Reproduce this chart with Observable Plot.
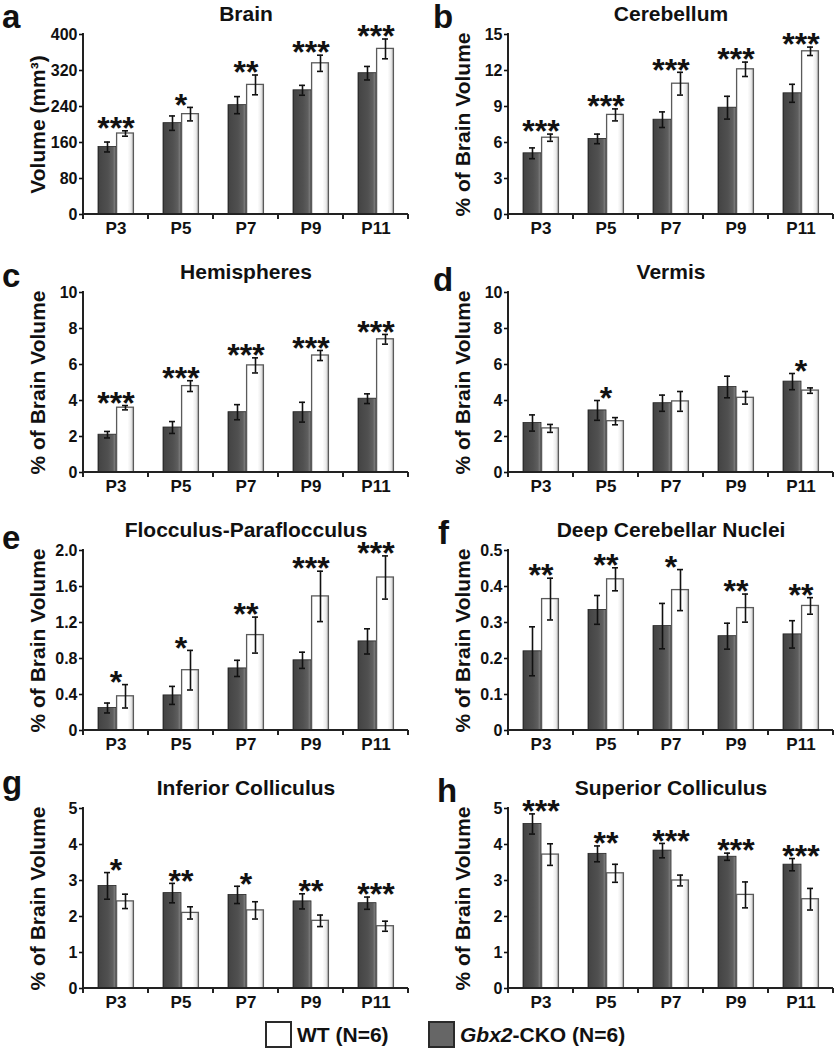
<!DOCTYPE html>
<html><head><meta charset="utf-8">
<script src="https://cdn.jsdelivr.net/npm/d3@7"></script>
<script src="https://cdn.jsdelivr.net/npm/@observablehq/plot@0.6"></script>
<style>
body{margin:0;background:#fff;}
#fig{position:relative;width:840px;height:1050px;font-family:"Liberation Sans",Arial,sans-serif;color:#111;overflow:hidden;}
.panel{position:absolute;}
.letter{position:absolute;font-weight:bold;font-size:33px;line-height:28px;}
.legend{position:absolute;top:1021px;font-weight:bold;font-size:21px;line-height:27px;display:flex;align-items:center;}
.swatch{width:23px;height:23px;border:2px solid #2a2a2a;margin-right:5px;}
</style></head>
<body><div id="fig"></div>
<script>
const ages = ["P3", "P5", "P7", "P9", "P11"];

// a Brain (mm3)
const brainCKO = [150, 203, 243, 276, 314];
const brainCKOErr = [11, 16, 19, 11, 15];
const brainWT = [180, 223, 288, 336, 368];
const brainWTErr = [6, 15, 22, 18, 22];
const brainStars = ["***", "*", "**", "***", "***"];
const brainTicks = [0, 80, 160, 240, 320, 400];

// b Cerebellum
const cbCKO = [5.1, 6.3, 7.9, 8.9, 10.1];
const cbCKOErr = [0.45, 0.4, 0.65, 0.95, 0.75];
const cbWT = [6.4, 8.3, 10.9, 12.1, 13.6];
const cbWTErr = [0.3, 0.5, 0.95, 0.6, 0.35];
const cbStars = ["***", "***", "***", "***", "***"];
const cbTicks = [0, 3, 6, 9, 12, 15];

// c Hemispheres
const hemCKO = [2.1, 2.5, 3.35, 3.35, 4.1];
const hemCKOErr = [0.18, 0.33, 0.42, 0.55, 0.27];
const hemWT = [3.6, 4.8, 5.95, 6.5, 7.4];
const hemWTErr = [0.12, 0.3, 0.42, 0.28, 0.27];
const hemStars = ["***", "***", "***", "***", "***"];
const hemTicks = [0, 2, 4, 6, 8, 10];

// d Vermis
const verCKO = [2.75, 3.45, 3.85, 4.75, 5.05];
const verCKOErr = [0.45, 0.55, 0.45, 0.6, 0.45];
const verWT = [2.45, 2.85, 3.95, 4.15, 4.55];
const verWTErr = [0.22, 0.2, 0.55, 0.35, 0.15];
const verStars = ["", "*", "", "", "*"];
const verTicks = [0, 2, 4, 6, 8, 10];

// e Flocculus-Paraflocculus
const flCKO = [0.25, 0.39, 0.69, 0.78, 0.99];
const flCKOErr = [0.055, 0.1, 0.09, 0.09, 0.14];
const flWT = [0.38, 0.67, 1.06, 1.49, 1.7];
const flWTErr = [0.13, 0.22, 0.2, 0.28, 0.24];
const flStars = ["*", "*", "**", "***", "***"];
const flTicks = [0, 0.4, 0.8, 1.2, 1.6, 2.0];

// f Deep Cerebellar Nuclei
const dcnCKO = [0.22, 0.335, 0.29, 0.262, 0.267];
const dcnCKOErr = [0.068, 0.04, 0.063, 0.036, 0.038];
const dcnWT = [0.365, 0.42, 0.39, 0.34, 0.346];
const dcnWTErr = [0.058, 0.032, 0.057, 0.039, 0.023];
const dcnStars = ["**", "**", "*", "**", "**"];
const dcnTicks = [0, 0.1, 0.2, 0.3, 0.4, 0.5];

// g Inferior Colliculus
const icCKO = [2.85, 2.65, 2.6, 2.42, 2.37];
const icCKOErr = [0.37, 0.27, 0.24, 0.21, 0.17];
const icWT = [2.42, 2.1, 2.17, 1.88, 1.73];
const icWTErr = [0.2, 0.17, 0.24, 0.16, 0.14];
const icStars = ["*", "**", "*", "**", "***"];
const icTicks = [0, 1, 2, 3, 4, 5];

// h Superior Colliculus
const scCKO = [4.57, 3.74, 3.83, 3.66, 3.44];
const scCKOErr = [0.28, 0.22, 0.2, 0.1, 0.17];
const scWT = [3.72, 3.2, 3.0, 2.6, 2.48];
const scWTErr = [0.3, 0.25, 0.15, 0.36, 0.3];
const scStars = ["***", "**", "***", "***", "***"];
const scTicks = [0, 1, 2, 3, 4, 5];

const pctLabel = "% of Brain Volume";
const int = d => String(d);
const dec = d => d === 0 ? "0" : d3.format(".1f")(d);

const panels = [
  {letter: "a", title: "Brain", ylabel: "Volume (mm\u00b3)", cko: brainCKO, ckoErr: brainCKOErr, wt: brainWT, wtErr: brainWTErr, stars: brainStars, ticks: brainTicks, fmt: int},
  {letter: "b", title: "Cerebellum", ylabel: pctLabel, cko: cbCKO, ckoErr: cbCKOErr, wt: cbWT, wtErr: cbWTErr, stars: cbStars, ticks: cbTicks, fmt: int},
  {letter: "c", title: "Hemispheres", ylabel: pctLabel, cko: hemCKO, ckoErr: hemCKOErr, wt: hemWT, wtErr: hemWTErr, stars: hemStars, ticks: hemTicks, fmt: int},
  {letter: "d", title: "Vermis", ylabel: pctLabel, cko: verCKO, ckoErr: verCKOErr, wt: verWT, wtErr: verWTErr, stars: verStars, ticks: verTicks, fmt: int},
  {letter: "e", title: "Flocculus-Paraflocculus", ylabel: pctLabel, cko: flCKO, ckoErr: flCKOErr, wt: flWT, wtErr: flWTErr, stars: flStars, ticks: flTicks, fmt: dec},
  {letter: "f", title: "Deep Cerebellar Nuclei", ylabel: pctLabel, cko: dcnCKO, ckoErr: dcnCKOErr, wt: dcnWT, wtErr: dcnWTErr, stars: dcnStars, ticks: dcnTicks, fmt: dec},
  {letter: "g", title: "Inferior Colliculus", ylabel: pctLabel, cko: icCKO, ckoErr: icCKOErr, wt: icWT, wtErr: icWTErr, stars: icStars, ticks: icTicks, fmt: int},
  {letter: "h", title: "Superior Colliculus", ylabel: pctLabel, cko: scCKO, ckoErr: scCKOErr, wt: scWT, wtErr: scWTErr, stars: scStars, ticks: scTicks, fmt: int}
];

// layout (style only)
const letterPos = [[2, 29], [13, 29], [2, 30], [13, 34], [2, 34], [18, 29], [2, 21], [17, 29]];
const FONT = '"Liberation Sans", Arial, sans-serif';
const ROW_H = 258;

function gradients() {
  const defs = d3.create("svg:defs");
  const g1 = defs.append("linearGradient").attr("id", "gDark").attr("x1", 0).attr("x2", 1).attr("y1", 0).attr("y2", 0);
  [[0, "#2a2a2a"], [0.08, "#454545"], [0.55, "#505050"], [0.82, "#5e5e5e"], [1, "#8a8a8a"]]
    .forEach(([o, c]) => g1.append("stop").attr("offset", o).attr("stop-color", c));
  const g2 = defs.append("linearGradient").attr("id", "gWhite").attr("x1", 0).attr("x2", 1).attr("y1", 0).attr("y2", 0);
  [[0, "#ffffff"], [0.65, "#ffffff"], [0.85, "#ececec"], [1, "#bdbdbd"]]
    .forEach(([o, c]) => g2.append("stop").attr("offset", o).attr("stop-color", c));
  return defs.node();
}

function axisLines(I, scales, values, dims) {
  const {fx} = scales;
  const g = d3.create("svg:g").attr("stroke", "#222").attr("stroke-width", 2).attr("fill", "none");
  const left = dims.marginLeft, right = dims.width - dims.marginRight;
  const top = dims.marginTop, bottom = dims.height - dims.marginBottom;
  g.append("line").attr("x1", left).attr("x2", left).attr("y1", top - 1).attr("y2", bottom);
  g.append("line").attr("x1", left - 1).attr("x2", right).attr("y1", bottom).attr("y2", bottom);
  const xs = fx.domain().map(d => fx(d)).concat([fx.range()[1]]);
  for (const x of xs) g.append("line").attr("x1", x).attr("x2", x).attr("y1", bottom).attr("y2", bottom + 5);
  return g.node();
}

function makePanel(p, k) {
  const col = k % 2, row = Math.floor(k / 2);
  const ml = col === 0 ? 83 : 88;
  const cko = ages.map((age, i) => ({age, group: "CKO", value: p.cko[i], err: p.ckoErr[i]}));
  const wt = ages.map((age, i) => ({age, group: "WT", value: p.wt[i], err: p.wtErr[i]}));
  const both = cko.concat(wt);
  const starRows = ages.map((age, i) => ({age, stars: p.stars[i], top: Math.max(p.cko[i] + p.ckoErr[i], p.wt[i] + p.wtErr[i])}));
  const yMax = p.ticks[p.ticks.length - 1];

  const chart = Plot.plot({
    width: 420, height: ROW_H,
    marginLeft: ml, marginRight: 420 - ml - 325, marginTop: 34, marginBottom: ROW_H - 34 - 180,
    style: {fontFamily: FONT, fontWeight: "bold", color: "#111", background: "transparent", overflow: "visible"},
    fx: {domain: ages, padding: 0, label: null},
    x: {domain: ["CKO", "WT"], paddingInner: 0, paddingOuter: 0.75, axis: null},
    y: {domain: [0, yMax], axis: null},
    marks: [
      gradients,
      Plot.barY(cko, {fx: "age", x: "group", y: "value", fill: "url(#gDark)", stroke: "#262626", strokeWidth: 0.8}),
      Plot.barY(wt, {fx: "age", x: "group", y: "value", fill: "url(#gWhite)", stroke: "#5a5a5a", strokeWidth: 1.3, insetLeft: 0.6, insetRight: 0.6}),
      Plot.ruleX(both, {fx: "age", x: "group", y1: d => d.value - d.err, y2: d => d.value + d.err, stroke: "#111", strokeWidth: 1.6}),
      Plot.tickY(both, {fx: "age", x: "group", y: d => d.value + d.err, stroke: "#111", strokeWidth: 1.6, inset: 6}),
      Plot.tickY(both, {fx: "age", x: "group", y: d => d.value - d.err, stroke: "#111", strokeWidth: 1.6, inset: 6}),
      Plot.text(starRows, {fx: "age", y: "top", text: "stars", fontSize: 32, fontWeight: "bold", fill: "#111", lineAnchor: "middle", dy: -2}),
      Plot.frame({facet: "super", render: axisLines}),
      Plot.axisFx({anchor: "bottom", tickSize: 0, tickPadding: 7, fontSize: 17, fontWeight: "bold", label: null}),
      Plot.axisY({ticks: p.ticks, tickFormat: p.fmt, tickSize: 4, tickPadding: 2, fontSize: 16, fontWeight: "bold", strokeWidth: 1.6, label: null}),
      Plot.text([p.title], {facet: "super", frameAnchor: "top", dy: -20, fontSize: 21, fontWeight: "bold", fill: "#111", lineAnchor: "middle"}),
      Plot.text([p.ylabel], {fx: () => ages[0], frameAnchor: "left", textAnchor: "middle", rotate: -90, dx: -45, fontSize: 21, fontWeight: "bold", fill: "#111", lineAnchor: "middle"})
    ]
  });
  const holder = document.createElement("div");
  holder.className = "panel";
  holder.style.left = (col * 420) + "px";
  holder.style.top = (row * ROW_H) + "px";
  holder.appendChild(chart);
  fig.appendChild(holder);

  const L = document.createElement("div");
  L.className = "letter";
  L.textContent = p.letter;
  L.style.left = (col * 420 + letterPos[k][0]) + "px";
  L.style.top = (row * ROW_H + letterPos[k][1] - 26) + "px";
  fig.appendChild(L);
}

const fig = document.getElementById("fig");
panels.forEach(makePanel);

// legend
const legendItems = [
  {label: "WT (N=6)", fill: "#ffffff", left: 265},
  {label: "<i>Gbx2</i>-CKO (N=6)", fill: "#666666", left: 428}
];
for (const it of legendItems) {
  const d = document.createElement("div");
  d.className = "legend";
  d.style.left = it.left + "px";
  d.innerHTML = `<span class="swatch" style="background:${it.fill}"></span><span>${it.label}</span>`;
  fig.appendChild(d);
}
</script>
</body></html>
